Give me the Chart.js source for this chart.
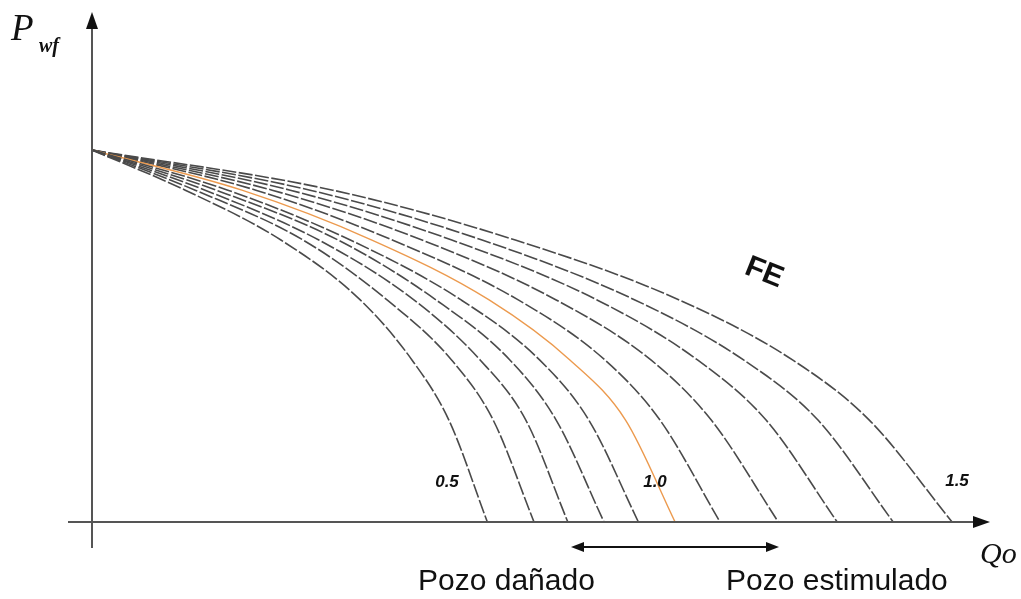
<!DOCTYPE html>
<html>
<head>
<meta charset="utf-8">
<script src="https://cdn.jsdelivr.net/npm/chart.js@4"></script>
<style>
  html, body { margin: 0; padding: 0; background: #fff; }
  #wrap { width: 1021px; height: 599px; }
</style>
</head>
<body>
<div id="wrap"><canvas id="iprChart" width="1021" height="599"></canvas></div>
<script>
// Eficiencia de flujo de cada curva
const feLabels = ["0.5", "0.6", "0.7", "0.8", "0.9", "1.0", "1.1", "1.2", "1.3", "1.4", "1.5"];

// Pwf / Pr (niveles de presion leidos)
const pwfLevels = [1.0, 0.892, 0.758, 0.597, 0.435, 0.274, 0.0];

// Qo / Qmax(FE=1) para cada curva, en los niveles de pwfLevels
const qoByFE = [
   [0, 0.160, 0.324, 0.460, 0.549, 0.612, 0.678],
   [0, 0.177, 0.362, 0.506, 0.617, 0.688, 0.758],
   [0, 0.194, 0.389, 0.552, 0.666, 0.744, 0.816],
   [0, 0.213, 0.422, 0.590, 0.717, 0.796, 0.878],
   [0, 0.233, 0.443, 0.633, 0.768, 0.852, 0.937],
   [0, 0.257, 0.480, 0.681, 0.820, 0.915, 1.000],
   [0, 0.281, 0.515, 0.731, 0.880, 0.974, 1.077],
   [0, 0.309, 0.566, 0.796, 0.959, 1.062, 1.177],
   [0, 0.340, 0.617, 0.866, 1.039, 1.156, 1.278],
   [0, 0.374, 0.669, 0.931, 1.118, 1.245, 1.374],
   [0, 0.413, 0.726, 1.007, 1.202, 1.333, 1.475],
];

// etiquetas que se escriben junto a las curvas
const curveTags = ["0.5", "1.0", "1.5"];

const datasets = qoByFE.map((row, i) => {
   const isBase = feLabels[i] === "1.0";
   return {
      label: "FE " + feLabels[i],
      data: row.map((q, j) => ({ x: q, y: pwfLevels[j] })),
      showLine: true,
      borderColor: isBase ? "#ec9a4e" : "#4a4a4a",
      borderWidth: isBase ? 1.4 : 1.6,
      borderDash: isBase ? [] : [14, 2.5],
      pointRadius: 0,
      cubicInterpolationMode: "monotone",
      fill: false,
   };
});

// ============================================
// ejes con flechas y textos
// ============================================
const iprDecor = {
   id: "iprDecor",
   afterDraw(chart) {
      const ctx = chart.ctx;
      const xs = chart.scales.x;
      const ys = chart.scales.y;
      const x0 = xs.getPixelForValue(0);
      const y0 = ys.getPixelForValue(0);
      const xEnd = xs.right;
      const yTop = ys.top;

      ctx.save();
      ctx.strokeStyle = "#555";
      ctx.lineWidth = 2;
      ctx.beginPath();
      ctx.moveTo(x0, 548);
      ctx.lineTo(x0, yTop + 10);
      ctx.moveTo(68, y0);
      ctx.lineTo(xEnd - 10, y0);
      ctx.stroke();

      ctx.fillStyle = "#111";
      // flecha vertical
      ctx.beginPath();
      ctx.moveTo(x0, yTop);
      ctx.lineTo(x0 - 6, yTop + 17);
      ctx.lineTo(x0 + 6, yTop + 17);
      ctx.closePath();
      ctx.fill();
      // flecha horizontal
      ctx.beginPath();
      ctx.moveTo(xEnd, y0);
      ctx.lineTo(xEnd - 17, y0 - 6);
      ctx.lineTo(xEnd - 17, y0 + 6);
      ctx.closePath();
      ctx.fill();

      // Pwf
      ctx.font = "italic 37px 'Liberation Serif'";
      ctx.textBaseline = "alphabetic";
      ctx.textAlign = "left";
      ctx.fillText("P", 11, 40);
      ctx.font = "bold italic 20px 'Liberation Serif'";
      ctx.fillText("wf", 39, 52);

      // Qo
      ctx.font = "italic 30px 'Liberation Serif'";
      ctx.fillText("Qo", 980, 563);

      // FE
      ctx.save();
      ctx.translate(764, 273);
      ctx.rotate(0.38);
      ctx.font = "bold 30px 'Liberation Sans'";
      ctx.textAlign = "center";
      ctx.textBaseline = "middle";
      ctx.fillText("FE", 0, 0);
      ctx.restore();

      // etiquetas de curva
      ctx.font = "bold italic 17px 'Liberation Sans'";
      ctx.textAlign = "center";
      ctx.textBaseline = "middle";
      const tagPos = [[447, 482], [655, 482], [957, 481]];
      curveTags.forEach((t, i) => ctx.fillText(t, tagPos[i][0], tagPos[i][1]));

      // flecha doble
      ctx.strokeStyle = "#111";
      ctx.lineWidth = 2;
      ctx.beginPath();
      ctx.moveTo(580, 547);
      ctx.lineTo(770, 547);
      ctx.stroke();
      ctx.beginPath();
      ctx.moveTo(571, 547);
      ctx.lineTo(584, 542);
      ctx.lineTo(584, 552);
      ctx.closePath();
      ctx.fill();
      ctx.beginPath();
      ctx.moveTo(779, 547);
      ctx.lineTo(766, 542);
      ctx.lineTo(766, 552);
      ctx.closePath();
      ctx.fill();

      ctx.font = "30px 'Liberation Sans'";
      ctx.textAlign = "left";
      ctx.textBaseline = "alphabetic";
      ctx.fillText("Pozo dañado", 418, 590);
      ctx.fillText("Pozo estimulado", 726, 590);
      ctx.restore();
   },
};

new Chart(document.getElementById("iprChart").getContext("2d"), {
   type: "scatter",
   data: { datasets: datasets },
   options: {
      responsive: false,
      animation: false,
      layout: { padding: { left: 92, right: 31, top: 12, bottom: 77 } },
      plugins: { legend: { display: false }, tooltip: { enabled: false } },
      scales: {
         x: { type: "linear", min: 0, max: 1.54, display: false },
         y: { type: "linear", min: 0, max: 1.371, display: false },
      },
   },
   plugins: [iprDecor],
});
</script>
</body>
</html>
